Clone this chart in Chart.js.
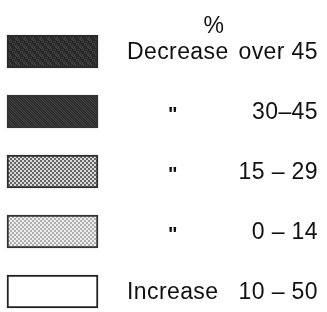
<!DOCTYPE html>
<html>
<head>
<meta charset="utf-8">
<script src="https://cdn.jsdelivr.net/npm/chart.js@4/dist/chart.umd.min.js"></script>
<style>
  html, body { margin: 0; padding: 0; background: #fff; }
  #wrap { width: 327px; height: 312px; position: relative; }
</style>
</head>
<body>
<div id="wrap"><canvas id="key"></canvas></div>
<script>
// legend rows, top to bottom
const classes = ['Decrease', '"', '"', '"', 'Increase'];
const ranges = ['over 45', '30\u201345', '15 \u2013 29', '0 \u2013 14', '10 \u2013 50'];
const unit = '%';
// each swatch is one full key cell
const swatch = [1, 1, 1, 1, 1];

// small tiled textures to mimic the printed screens
function makePattern(draw, size) {
  const c = document.createElement('canvas');
  c.width = size; c.height = size;
  draw(c.getContext('2d'));
  return c.getContext('2d').createPattern(c, 'repeat');
}

const darkA = makePattern(g => {
  const shades = ['#2a2a2a', '#3a3a3a', '#262626', '#444', '#303030', '#222', '#3d3d3d', '#2d2d2d'];
  for (let y = 0; y < 8; y++)
    for (let x = 0; x < 8; x++) {
      g.fillStyle = shades[(x * 3 + y * 5 + (x * y) % 3) % shades.length];
      g.fillRect(x, y, 1, 1);
    }
}, 8);

const darkB = makePattern(g => {
  const shades = ['#333', '#3f3f3f', '#2b2b2b', '#484848', '#363636', '#292929', '#414141', '#313131'];
  for (let y = 0; y < 8; y++)
    for (let x = 0; x < 8; x++) {
      g.fillStyle = shades[(x * 5 + y * 3 + (x + y) % 2) % shades.length];
      g.fillRect(x, y, 1, 1);
    }
}, 8);

const checkMid = makePattern(g => {
  g.fillStyle = '#d8d8d8'; g.fillRect(0, 0, 4, 4);
  g.fillStyle = '#666'; g.fillRect(0, 0, 2, 2); g.fillRect(2, 2, 2, 2);
}, 4);

const checkLight = makePattern(g => {
  g.fillStyle = '#eeeeee'; g.fillRect(0, 0, 4, 4);
  g.fillStyle = '#b0b0b0'; g.fillRect(0, 0, 2, 2); g.fillRect(2, 2, 2, 2);
}, 4);

const fills = [darkA, darkB, checkMid, checkLight, '#ffffff'];

const keyText = {
  id: 'keyText',
  afterDatasetsDraw(chart) {
    const { ctx, chartArea, scales } = chart;
    const yScale = scales.y;
    const wordX = chartArea.right + 29;
    const dittoX = chartArea.right + 75;
    const numRight = 318;
    ctx.save();
    ctx.fillStyle = '#111';
    ctx.font = '23px "Liberation Sans", Arial, sans-serif';
    ctx.letterSpacing = '0.4px';
    ctx.textBaseline = 'alphabetic';

    const top = yScale.getPixelForValue(0);
    ctx.textAlign = 'center';
    ctx.fillText(unit, 214, top - 19);

    classes.forEach((c, i) => {
      const y = yScale.getPixelForValue(i) + 7.5;
      if (c === '"') {
        ctx.save();
        ctx.font = 'bold 20px "Liberation Sans", Arial, sans-serif';
        ctx.textAlign = 'center';
        ctx.fillText(c, dittoX, y + 2);
        ctx.restore();
      } else {
        ctx.textAlign = 'left';
        ctx.fillText(c, wordX, y);
      }
      ctx.textAlign = 'right';
      ctx.fillText(ranges[i], numRight, y);
    });
    ctx.restore();
  }
};

new Chart(document.getElementById('key'), {
  type: 'bar',
  data: {
    labels: classes.map((c, i) => c + ' ' + ranges[i]),
    datasets: [{
      data: swatch,
      backgroundColor: fills,
      borderColor: ['#2a2a2a', '#333', '#2e2e2e', '#333', '#222'],
      borderWidth: 2,
      borderSkipped: false,
      barThickness: 33,
      clip: false
    }]
  },
  plugins: [keyText],
  options: {
    indexAxis: 'y',
    responsive: true,
    maintainAspectRatio: false,
    animation: false,
    layout: { padding: { left: 7, right: 229, top: 51.5, bottom: 20.5 } },
    scales: {
      x: { display: false, min: 0, max: 1 },
      y: { display: false, offset: false }
    },
    plugins: {
      legend: { display: false },
      tooltip: { enabled: false }
    }
  }
});
</script>
</body>
</html>
